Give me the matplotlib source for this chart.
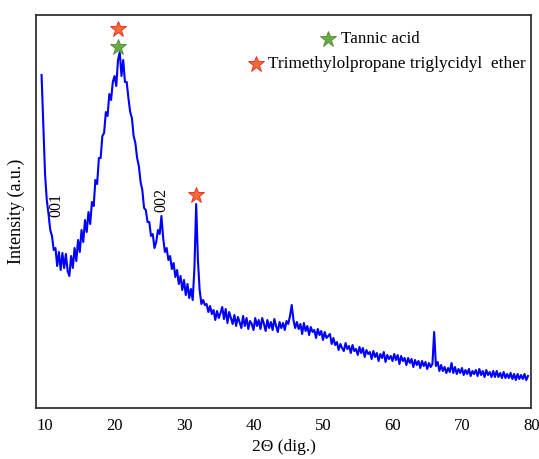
import numpy as np
import matplotlib.pyplot as plt

plt.rcParams['font.family'] = ['Liberation Serif', 'DejaVu Serif']

# 2-theta scan grid (deg.), start and step of the measurement
TWO_THETA_START = 9.5
TWO_THETA_STEP = 0.25

# intensity (a.u.), one row per degree
intensity = [
    333, 283,                      # 9.5 - 9.75
    234, 208, 194, 178,            # 10
    172, 158, 160, 142,            # 11
    156, 138, 155, 140,            # 12
    154, 137, 132, 152,            # 13
    140, 160, 147, 168,            # 14
    156, 178, 166, 188,            # 15
    176, 196, 184, 206,            # 16
    202, 228, 224, 250,            # 17
    250, 272, 275, 296,            # 18
    292, 314, 308, 326,            # 19
    332, 322, 348, 356,            # 20
    332, 348, 326, 326,            # 21
    310, 296, 290, 272,            # 22
    265, 250, 242, 226,            # 23
    218, 200, 198, 186,            # 24
    186, 172, 174, 160,            # 25
    166, 178, 174, 192,            # 26
    170, 156, 160, 148,            # 27
    152, 139, 145, 131,            # 28
    138, 124, 132, 118,            # 29
    128, 113, 124, 110,            # 30
    119, 108, 140, 204,            # 31
    148, 118, 104, 108,            # 32
    103, 104, 96, 102,             # 33
    94, 98, 88, 97,                # 34
    90, 95, 101, 89,               # 35
    99, 85, 96, 90,                # 36
    84, 93, 82, 91,                # 37
    86, 80, 92, 82,                # 38
    90, 79, 87, 84,                # 39
    78, 90, 82, 88,                # 40
    79, 90, 84, 77,                # 41
    88, 80, 86, 78,                # 42
    89, 82, 76, 86,                # 43
    80, 85, 78, 87,                # 44
    84, 92, 103, 88,               # 45
    80, 86, 79, 84,                # 46
    74, 85, 77, 82,                # 47
    73, 81, 76, 78,                # 48
    70, 79, 73, 77,                # 49
    68, 76, 70, 72,                # 50
    74, 64, 70, 63,                # 51
    66, 58, 64, 60,                # 52
    57, 65, 59, 62,                # 53
    55, 63, 57, 59,                # 54
    53, 61, 55, 60,                # 55
    51, 58, 54, 56,                # 56
    49, 57, 51, 55,                # 57
    47, 54, 50, 56,                # 58
    46, 53, 49, 52,                # 59
    47, 54, 48, 53,                # 60
    44, 52, 47, 50,                # 61
    43, 50, 45, 49,                # 62
    41, 48, 43, 47,                # 63
    40, 47, 42, 46,                # 64
    39, 45, 41, 44,                # 65
    76, 42, 46, 37,                # 66
    43, 37, 41, 35,                # 67
    40, 36, 45, 35,                # 68
    41, 34, 39, 35,                # 69
    40, 33, 38, 34,                # 70
    39, 32, 37, 34,                # 71
    38, 32, 39, 33,                # 72
    37, 31, 38, 33,                # 73
    36, 31, 37, 31,                # 74
    37, 31, 35, 30,                # 75
    36, 30, 34, 30,                # 76
    35, 29, 34, 28,                # 77
    34, 29, 33, 29,                # 78
    34, 28, 32,                    # 79 - 79.5
]

two_theta = TWO_THETA_START + TWO_THETA_STEP * np.arange(len(intensity))

# peak assignments (position, marker height)
tannic_peaks = [(20.55, 361)]
tmpte_peaks = [(20.55, 379), (31.7, 213)]
plane_labels = ['001', '002']
plane_pos = [(11.7, 203), (26.8, 208)]

xticks = [10, 20, 30, 40, 50, 60, 70, 80]

fig = plt.figure(figsize=(5.39, 4.59), dpi=100)
ax = fig.add_axes([0.0668, 0.1111, 0.9192, 0.8562])

ax.plot(two_theta, intensity, color='#0000FF', lw=1.5)

green_face, green_edge = '#6AAA45', '#4E8A32'
red_face, red_edge = '#F66A34', '#E8261A'

for x, y in tannic_peaks:
    ax.plot(x, y, marker='*', ms=12, mfc=green_face, mec=green_edge, mew=0.6, ls='none')
for x, y in tmpte_peaks:
    ax.plot(x, y, marker='*', ms=12, mfc=red_face, mec=red_edge, mew=0.6, ls='none')

for lab, (x, y) in zip(plane_labels, plane_pos):
    ax.text(x, y, lab, rotation=90, ha='center', va='center', fontsize=11.5)

# legend drawn by hand so that the entries are centred like the original
ax.plot(0.589, 0.94, transform=ax.transAxes, marker='*', ms=12,
        mfc=green_face, mec=green_edge, mew=0.6, ls='none', clip_on=False)
ax.text(0.615, 0.94, 'Tannic acid', transform=ax.transAxes,
        ha='left', va='center', fontsize=12.2)
ax.plot(0.444, 0.876, transform=ax.transAxes, marker='*', ms=12,
        mfc=red_face, mec=red_edge, mew=0.6, ls='none', clip_on=False)
ax.text(0.468, 0.876, 'Trimethylolpropane triglycidyl  ether', transform=ax.transAxes,
        ha='left', va='center', fontsize=12.4)

ax.set_xlim(8.7, 80)
ax.set_ylim(0, 393)
ax.set_xticks(xticks)
ax.set_yticks([])
ax.tick_params(axis='x', length=0, pad=7, labelsize=12)

ax.set_xlabel('2\u0398 (dig.)', fontsize=12.5, labelpad=4)
ax.set_ylabel('Intensity (a.u.)', fontsize=13, labelpad=8)

for sp in ax.spines.values():
    sp.set_linewidth(1.3)
    sp.set_color('#333333')

fig.savefig('out.png', dpi=100)
